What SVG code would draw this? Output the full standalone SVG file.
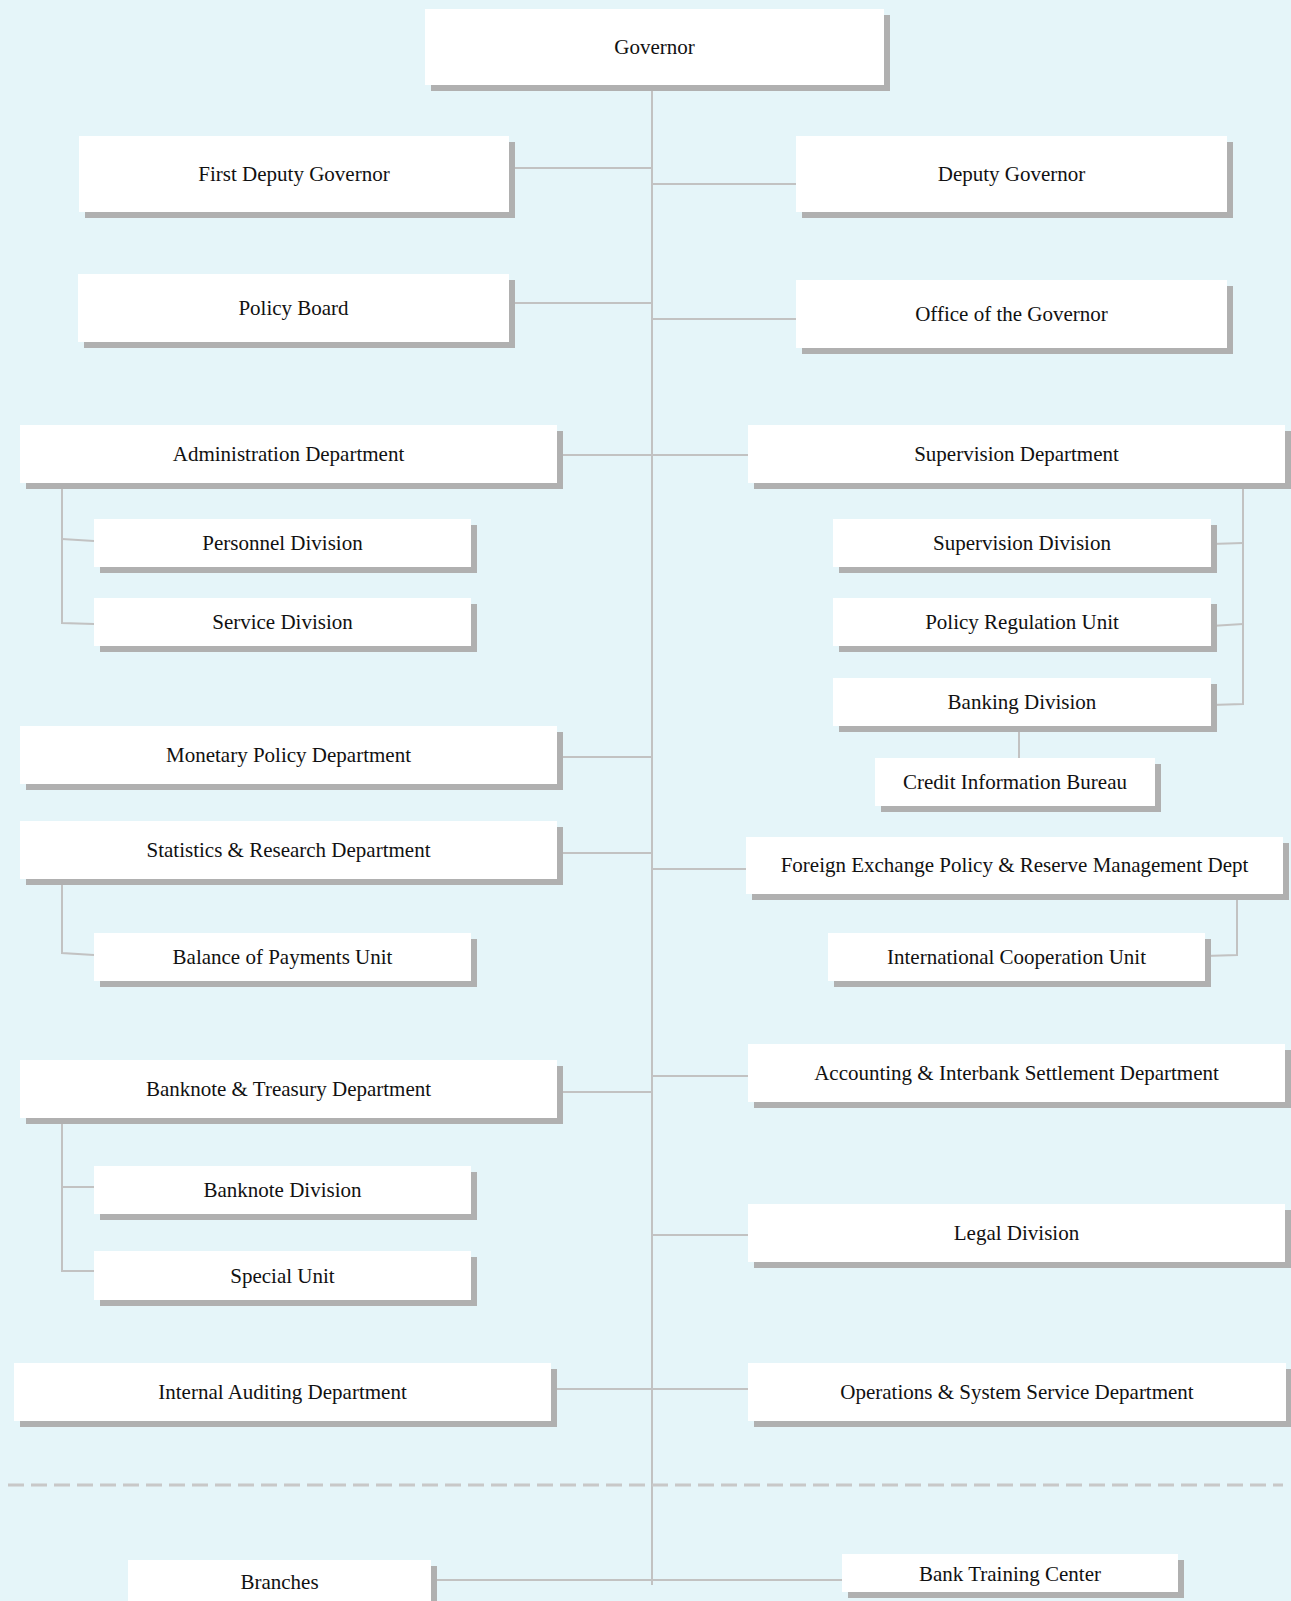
<svg xmlns="http://www.w3.org/2000/svg" width="1291" height="1601" viewBox="0 0 1291 1601">
  <defs>
    <style>
      .bg { fill: #e5f5f9; }
      .box { fill: #ffffff; }
      .shadow { fill: #b0b0b0; }
      .label { font-family: "Liberation Serif", "Times New Roman", serif; font-size: 21px; fill: #111111; text-anchor: middle; }
      .link { stroke: #c2c2c2; stroke-width: 2; fill: none; }
      .divider { stroke: #c8c8c8; stroke-width: 3; stroke-dasharray: 16 7; fill: none; }
    </style>
  </defs>

  <rect class="bg" x="0" y="0" width="1291" height="1601"/>

  <!-- connectors -->
  <g id="connectors">
    <line class="link" x1="652" y1="85" x2="652" y2="1585"/>
    <line class="link" x1="509" y1="168" x2="652" y2="168"/>
    <line class="link" x1="652" y1="184" x2="796" y2="184"/>
    <line class="link" x1="509" y1="303" x2="652" y2="303"/>
    <line class="link" x1="652" y1="319" x2="796" y2="319"/>
    <line class="link" x1="557" y1="455" x2="748" y2="455"/>
    <!-- Administration sub-units -->
    <polyline class="link" points="62,483 62,623 94,624"/>
    <line class="link" x1="62" y1="539" x2="94" y2="541"/>
    <!-- Supervision sub-units -->
    <polyline class="link" points="1243,483 1243,704 1211,705"/>
    <line class="link" x1="1211" y1="544" x2="1243" y2="543"/>
    <line class="link" x1="1211" y1="626" x2="1243" y2="624"/>
    <line class="link" x1="1019" y1="726" x2="1019" y2="758"/>
    <line class="link" x1="557" y1="757" x2="652" y2="757"/>
    <line class="link" x1="557" y1="853" x2="652" y2="853"/>
    <line class="link" x1="652" y1="869" x2="746" y2="869"/>
    <polyline class="link" points="62,879 62,953 94,955"/>
    <polyline class="link" points="1237,894 1237,955 1205,956"/>
    <line class="link" x1="652" y1="1076" x2="748" y2="1076"/>
    <line class="link" x1="557" y1="1092" x2="652" y2="1092"/>
    <!-- Banknote & Treasury sub-units -->
    <polyline class="link" points="62,1118 62,1271 94,1271"/>
    <line class="link" x1="62" y1="1187" x2="94" y2="1187"/>
    <line class="link" x1="652" y1="1235" x2="748" y2="1235"/>
    <line class="link" x1="551" y1="1389" x2="748" y2="1389"/>
    <line class="divider" x1="8" y1="1485" x2="1283" y2="1485"/>
    <line class="link" x1="431" y1="1580" x2="842" y2="1580"/>
  </g>

  <g id="governor">
    <rect class="shadow" x="431" y="15" width="459" height="76"/>
    <rect class="box" x="425" y="9" width="459" height="76"/>
    <text class="label" x="654.5" y="54">Governor</text>
  </g>
  <g id="first-deputy-governor">
    <rect class="shadow" x="85" y="142" width="430" height="76"/>
    <rect class="box" x="79" y="136" width="430" height="76"/>
    <text class="label" x="294" y="181">First Deputy Governor</text>
  </g>
  <g id="deputy-governor">
    <rect class="shadow" x="802" y="142" width="431" height="76"/>
    <rect class="box" x="796" y="136" width="431" height="76"/>
    <text class="label" x="1011.5" y="181">Deputy Governor</text>
  </g>
  <g id="policy-board">
    <rect class="shadow" x="84" y="280" width="431" height="68"/>
    <rect class="box" x="78" y="274" width="431" height="68"/>
    <text class="label" x="293.5" y="315">Policy Board</text>
  </g>
  <g id="office-of-the-governor">
    <rect class="shadow" x="802" y="286" width="431" height="68"/>
    <rect class="box" x="796" y="280" width="431" height="68"/>
    <text class="label" x="1011.5" y="321">Office of the Governor</text>
  </g>
  <g id="administration-department">
    <rect class="shadow" x="26" y="431" width="537" height="58"/>
    <rect class="box" x="20" y="425" width="537" height="58"/>
    <text class="label" x="288.5" y="461">Administration Department</text>
  </g>
  <g id="supervision-department">
    <rect class="shadow" x="754" y="431" width="537" height="58"/>
    <rect class="box" x="748" y="425" width="537" height="58"/>
    <text class="label" x="1016.5" y="461">Supervision Department</text>
  </g>
  <g id="personnel-division">
    <rect class="shadow" x="100" y="525" width="377" height="48"/>
    <rect class="box" x="94" y="519" width="377" height="48"/>
    <text class="label" x="282.5" y="550">Personnel Division</text>
  </g>
  <g id="service-division">
    <rect class="shadow" x="100" y="604" width="377" height="48"/>
    <rect class="box" x="94" y="598" width="377" height="48"/>
    <text class="label" x="282.5" y="629">Service Division</text>
  </g>
  <g id="supervision-division">
    <rect class="shadow" x="839" y="525" width="378" height="48"/>
    <rect class="box" x="833" y="519" width="378" height="48"/>
    <text class="label" x="1022" y="550">Supervision Division</text>
  </g>
  <g id="policy-regulation-unit">
    <rect class="shadow" x="839" y="604" width="378" height="48"/>
    <rect class="box" x="833" y="598" width="378" height="48"/>
    <text class="label" x="1022" y="629">Policy Regulation Unit</text>
  </g>
  <g id="banking-division">
    <rect class="shadow" x="839" y="684" width="378" height="48"/>
    <rect class="box" x="833" y="678" width="378" height="48"/>
    <text class="label" x="1022" y="709">Banking Division</text>
  </g>
  <g id="credit-information-bureau">
    <rect class="shadow" x="881" y="764" width="280" height="48"/>
    <rect class="box" x="875" y="758" width="280" height="48"/>
    <text class="label" x="1015" y="789">Credit Information Bureau</text>
  </g>
  <g id="monetary-policy-department">
    <rect class="shadow" x="26" y="732" width="537" height="58"/>
    <rect class="box" x="20" y="726" width="537" height="58"/>
    <text class="label" x="288.5" y="762">Monetary Policy Department</text>
  </g>
  <g id="statistics-research-department">
    <rect class="shadow" x="26" y="827" width="537" height="58"/>
    <rect class="box" x="20" y="821" width="537" height="58"/>
    <text class="label" x="288.5" y="857">Statistics &amp; Research Department</text>
  </g>
  <g id="foreign-exchange-department">
    <rect class="shadow" x="752" y="843" width="537" height="57"/>
    <rect class="box" x="746" y="837" width="537" height="57"/>
    <text class="label" x="1014.5" y="872">Foreign Exchange Policy &amp; Reserve Management Dept</text>
  </g>
  <g id="balance-of-payments-unit">
    <rect class="shadow" x="100" y="939" width="377" height="48"/>
    <rect class="box" x="94" y="933" width="377" height="48"/>
    <text class="label" x="282.5" y="964">Balance of Payments Unit</text>
  </g>
  <g id="international-cooperation-unit">
    <rect class="shadow" x="834" y="939" width="377" height="48"/>
    <rect class="box" x="828" y="933" width="377" height="48"/>
    <text class="label" x="1016.5" y="964">International Cooperation Unit</text>
  </g>
  <g id="accounting-settlement-department">
    <rect class="shadow" x="754" y="1050" width="537" height="58"/>
    <rect class="box" x="748" y="1044" width="537" height="58"/>
    <text class="label" x="1016.5" y="1080">Accounting &amp; Interbank Settlement Department</text>
  </g>
  <g id="banknote-treasury-department">
    <rect class="shadow" x="26" y="1066" width="537" height="58"/>
    <rect class="box" x="20" y="1060" width="537" height="58"/>
    <text class="label" x="288.5" y="1096">Banknote &amp; Treasury Department</text>
  </g>
  <g id="banknote-division">
    <rect class="shadow" x="100" y="1172" width="377" height="48"/>
    <rect class="box" x="94" y="1166" width="377" height="48"/>
    <text class="label" x="282.5" y="1197">Banknote Division</text>
  </g>
  <g id="special-unit">
    <rect class="shadow" x="100" y="1257" width="377" height="49"/>
    <rect class="box" x="94" y="1251" width="377" height="49"/>
    <text class="label" x="282.5" y="1283">Special Unit</text>
  </g>
  <g id="legal-division">
    <rect class="shadow" x="754" y="1210" width="537" height="58"/>
    <rect class="box" x="748" y="1204" width="537" height="58"/>
    <text class="label" x="1016.5" y="1240">Legal Division</text>
  </g>
  <g id="internal-auditing-department">
    <rect class="shadow" x="20" y="1369" width="537" height="58"/>
    <rect class="box" x="14" y="1363" width="537" height="58"/>
    <text class="label" x="282.5" y="1399">Internal Auditing Department</text>
  </g>
  <g id="operations-system-service-department">
    <rect class="shadow" x="754" y="1369" width="538" height="58"/>
    <rect class="box" x="748" y="1363" width="538" height="58"/>
    <text class="label" x="1017" y="1399">Operations &amp; System Service Department</text>
  </g>
  <g id="branches">
    <rect class="shadow" x="134" y="1566" width="303" height="46"/>
    <rect class="box" x="128" y="1560" width="303" height="46"/>
    <text class="label" x="279.5" y="1589">Branches</text>
  </g>
  <g id="bank-training-center">
    <rect class="shadow" x="848" y="1560" width="336" height="38"/>
    <rect class="box" x="842" y="1554" width="336" height="38"/>
    <text class="label" x="1010" y="1581">Bank Training Center</text>
  </g>
</svg>
